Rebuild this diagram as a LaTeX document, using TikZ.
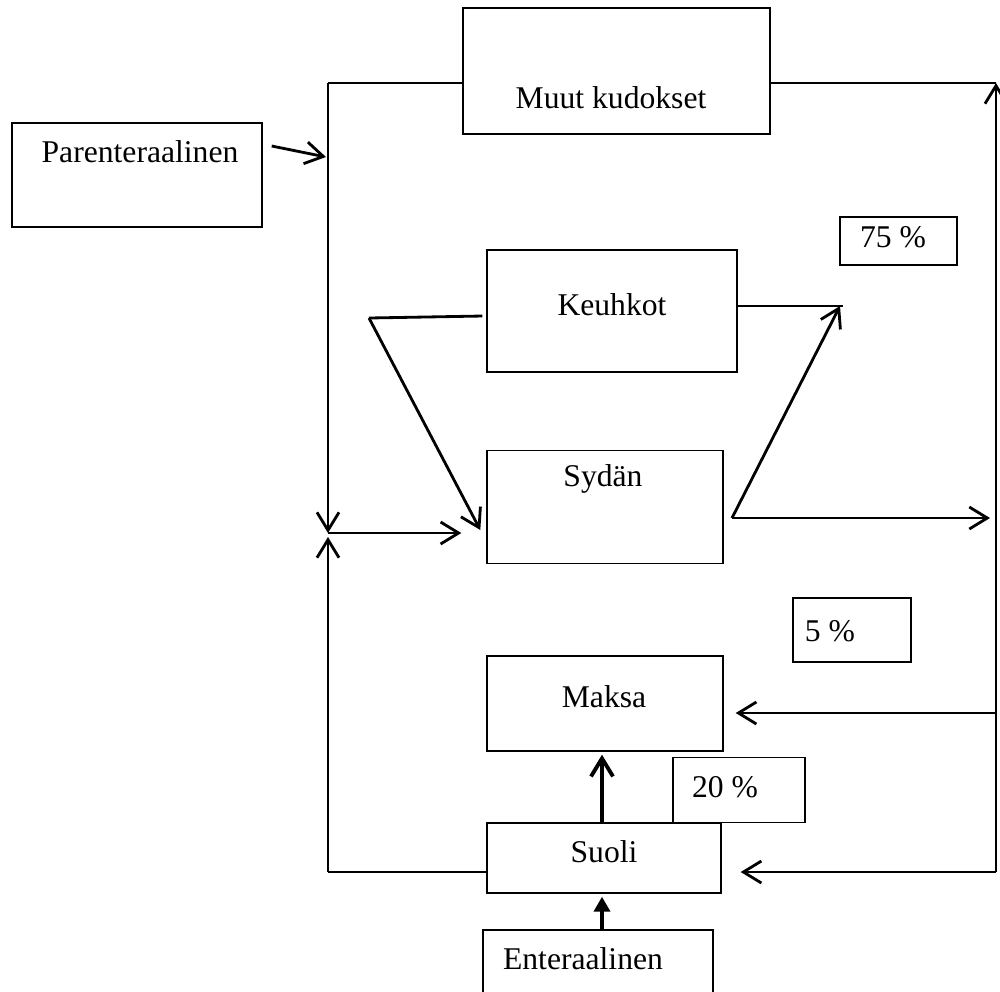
\documentclass[tikz,border=0pt]{standalone}
\usepackage{fontspec}
\setmainfont{Liberation Serif}
\usetikzlibrary{arrows.meta,positioning,calc}
\tikzset{box/.style={draw, line width=0.4pt, inner sep=0pt}}
\tikzset{lbl/.style={inner sep=0pt, font=\fontsize{9}{11}\selectfont}}
\tikzset{arr/.style={draw, line width=0.8pt, -{Straight Barb[length=1.8mm, width=2.2mm]}}}
\tikzset{ln/.style={draw, line width=0.8pt}}

\begin{document}
\begin{tikzpicture}[x=0.1mm, y=-0.1mm]
\useasboundingbox (0,0) rectangle (1000,991);
% boxes
\node[box, minimum width=30.7mm, minimum height=12.6mm] (muut) at (616.5,71) {};
\node[box, minimum width=25mm, minimum height=10.4mm] (par) at (137,175) {};
\node[box, minimum width=11.7mm, minimum height=4.8mm] (p75) at (898.5,241) {};
\node[box, minimum width=25mm, minimum height=12.2mm] (keuhkot) at (612,311) {};
\node[box, minimum width=23.6mm, minimum height=11.3mm] (sydan) at (605,507) {};
\node[box, minimum width=11.8mm, minimum height=6.4mm] (p5) at (852,630) {};
\node[box, minimum width=23.6mm, minimum height=9.5mm] (maksa) at (605,703.5) {};
\node[box, minimum width=13.2mm, minimum height=6.5mm] (p20) at (739,790) {};
\node[box, minimum width=23.4mm, minimum height=7mm] (suoli) at (604,858) {};
\node[box, minimum width=23mm, minimum height=7mm] (enter) at (598,965) {};
% texts
\node[lbl] (tmuut) at (611,98) {Muut kudokset};
\node[lbl] (tpar) at (140,152) {Parenteraalinen};
\node[lbl] (t75) at (893,237) {75 \%};
\node[lbl] (tkeuhkot) at (612,305) {Keuhkot};
\node[lbl] (tsydan) at (603,479) {Sydän};
\node[lbl] (t5) at (830,631) {5 \%};
\node[lbl] (tmaksa) at (604,697) {Maksa};
\node[lbl] (t20) at (725,787) {20 \%};
\node[lbl] (tsuoli) at (604,852) {Suoli};
\node[lbl] (tenter) at (583,959) {Enteraalinen};
% points on the lines
\coordinate (ltop) at (328,83);
\coordinate (lmid) at (328,533);
\coordinate (lbot) at (328,872);
\coordinate (rtop) at (996,83);
\coordinate (rbot) at (996,872);
\coordinate (rmaksa) at (996,713);
\coordinate (kbend) at (369,318);
\coordinate (kout) at (843,306);
\coordinate (sout) at (732,518);
% connectors
\draw[ln] (muut.west |- ltop) -- (ltop);
\draw[arr] (ltop) -- (lmid);
\draw[ln] (muut.east |- rtop) -- (rtop);
\draw[arr] (rbot) -- (rtop);
\draw[arr] ($(par.east)+(9,-29)$) -- ($(ltop)+(-2,74)$);
\draw[ln] (suoli.west |- lbot) -- (lbot);
\draw[arr] (lbot) -- ($(lmid)+(0,4)$);
\draw[arr] (lmid) -- ($(sydan.west)+(-25,26)$);
\draw[ln] ($(keuhkot.west)+(-4,5)$) -- (kbend);
\draw[arr] (kbend) -- ($(sydan.west)+(-6,23)$);
\draw[ln] ($(keuhkot.east)+(0,-5)$) -- (kout);
\draw[arr] (sout) -- ($(kout)+(-3,0)$);
\draw[arr] (sout) -- ($(rtop |- sout)+(-6,0)$);
\draw[arr] (rmaksa) -- ($(maksa.east |- rmaksa)+(12,0)$);
\draw[arr] (rbot) -- ($(suoli.east |- rbot)+(19,0)$);
\draw[arr, line width=1.1pt] (suoli.north -| tsuoli) ++(-2,0) -- ($(maksa.south -| tsuoli)+(-2,3)$);
\draw[line width=1.1pt, -{Triangle[length=1.5mm, width=1.6mm]}] ($(enter.north)+(4,0)$) -- ($(suoli.south -| enter.north)+(4,3)$);
\end{tikzpicture}
\end{document}
